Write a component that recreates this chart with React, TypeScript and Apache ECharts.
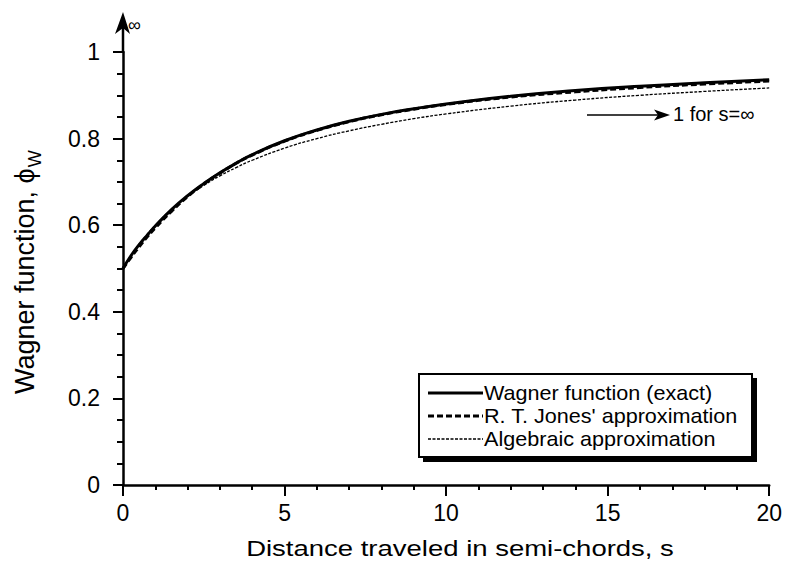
import React, { useEffect, useRef } from "react";
import * as echarts from "echarts";

const sValues = [0, 0.25, 0.5, 0.75, 1, 1.5, 2, 2.5, 3, 3.5, 4, 5, 6, 7, 8, 9, 10, 12, 14, 16, 18, 20];
const exactValues = [0.5, 0.53, 0.555, 0.577, 0.598, 0.636, 0.668, 0.696, 0.721, 0.743, 0.763, 0.795, 0.82, 0.84, 0.856, 0.869, 0.88, 0.898, 0.911, 0.921, 0.929, 0.936];
const jonesValues = [0.5, 0.526, 0.55, 0.573, 0.594, 0.632, 0.666, 0.695, 0.72, 0.743, 0.762, 0.794, 0.819, 0.839, 0.855, 0.868, 0.879, 0.896, 0.908, 0.918, 0.926, 0.933];
const algebraicValues = [0.5, 0.529, 0.556, 0.579, 0.6, 0.636, 0.667, 0.692, 0.714, 0.733, 0.75, 0.778, 0.8, 0.818, 0.833, 0.846, 0.857, 0.875, 0.889, 0.9, 0.909, 0.917];

const seriesNames = ["Wagner function (exact)", "R. T. Jones' approximation", "Algebraic approximation"];
const xTitle = "Distance traveled in semi-chords, s";
const yTitle = "Wagner function, ϕ";
const yTitleSub = "W";
const noteText = "1 for s=∞";

const FONT = '"Liberation Sans", Arial, sans-serif';

function measure(text: string, size: number) {
  const c = document.createElement("canvas").getContext("2d");
  if (!c) return text.length * size * 0.5;
  c.font = `${size}px "Liberation Sans"`;
  return c.measureText(text).width;
}

function txt(x: number, y: number, text: string, size: number, align: string, vAlign: string, extra: any = {}) {
  return {
    type: "text",
    x,
    y,
    ...extra,
    style: {
      text,
      fontSize: size,
      fontFamily: FONT,
      fill: "#000",
      align,
      verticalAlign: vAlign,
      textAlign: align,
      textVerticalAlign: vAlign,
    },
  };
}

export default function App() {
  const ref = useRef<HTMLDivElement>(null);
  useEffect(() => {
    if (!ref.current) return;
    const chart = echarts.init(ref.current, undefined, { renderer: "svg" });
    const pair = (vals: number[]) => sValues.map((s, i) => [s, vals[i]]);
    const yMainW = measure(yTitle, 27);

    const legendRows = [
      { y: 393, dash: null as any, w: 3 },
      { y: 416, dash: [6, 3], w: 3 },
      { y: 439, dash: [3, 1.5], w: 1.3 },
    ];

    chart.setOption({
      animation: false,
      backgroundColor: "#fff",
      grid: { left: 123, right: 11, top: 52, bottom: 80, containLabel: false },
      xAxis: {
        type: "value",
        min: 0,
        max: 20,
        interval: 5,
        axisLine: { show: true, lineStyle: { color: "#000", width: 2.5 } },
        axisTick: { show: true, inside: false, length: 11, lineStyle: { color: "#000", width: 2 } },
        minorTick: { show: true, splitNumber: 5, length: 5, lineStyle: { color: "#000", width: 2 } },
        splitLine: { show: false },
        axisLabel: { color: "#000", fontSize: 23, fontFamily: FONT, margin: 16 },
      },
      yAxis: {
        type: "value",
        min: 0,
        max: 1,
        interval: 0.2,
        axisLine: { show: true, lineStyle: { color: "#000", width: 2.5 } },
        axisTick: { show: true, inside: false, length: 10, lineStyle: { color: "#000", width: 2 } },
        minorTick: { show: true, splitNumber: 4, length: 6, lineStyle: { color: "#000", width: 2 } },
        splitLine: { show: false },
        axisLabel: { color: "#000", fontSize: 23, fontFamily: FONT, margin: 23 },
      },
      series: [
        {
          name: seriesNames[2],
          type: "line",
          data: pair(algebraicValues),
          smooth: true,
          symbol: "none",
          lineStyle: { color: "#000", width: 1.3, type: [3, 1.5] },
        },
        {
          name: seriesNames[0],
          type: "line",
          data: pair(exactValues),
          smooth: true,
          symbol: "none",
          lineStyle: { color: "#000", width: 3, type: "solid" },
        },
        {
          name: seriesNames[1],
          type: "line",
          data: pair(jonesValues),
          smooth: true,
          symbol: "none",
          lineStyle: { color: "#000", width: 3, type: [6, 3] },
        },
      ],
      graphic: [
        { type: "line", shape: { x1: 123, y1: 53, x2: 123, y2: 26 }, style: { stroke: "#000", lineWidth: 2.5 } },
        { type: "polygon", shape: { points: [[123, 12], [115, 34], [123, 28], [130, 34]] }, style: { fill: "#000" } },
        txt(128, 25, "∞", 18, "left", "middle"),
        { type: "line", shape: { x1: 587, y1: 115, x2: 660, y2: 115 }, style: { stroke: "#000", lineWidth: 1.5 } },
        { type: "polygon", shape: { points: [[670, 115], [654, 109.5], [658, 115], [654, 120.5]] }, style: { fill: "#000" } },
        txt(673, 114, noteText, 20, "left", "middle"),
        txt(460, 548, xTitle, 22, "center", "middle", { scaleX: 1.25 }),
        {
          type: "group",
          x: 25,
          y: 394,
          rotation: Math.PI / 2,
          children: [
            txt(0, 0, yTitle, 27, "left", "middle", { scaleY: 1.0 }),
            txt(yMainW + 1, 10, yTitleSub, 18, "left", "middle"),
          ],
        },
        { type: "rect", shape: { x: 423, y: 378, width: 334, height: 84 }, style: { fill: "#000" } },
        { type: "rect", shape: { x: 419, y: 374, width: 333, height: 83 }, style: { fill: "#fff", stroke: "#000", lineWidth: 2 } },
        ...legendRows.flatMap((r, i) => [
          {
            type: "line",
            shape: { x1: 428, y1: r.y, x2: 483, y2: r.y },
            style: { stroke: "#000", lineWidth: r.w, lineDash: r.dash },
          },
          txt(484, r.y, seriesNames[i], 20, "left", "middle", { scaleX: 1.08 }),
        ]),
      ],
    });
    return () => chart.dispose();
  }, []);
  return <div ref={ref} style={{ position: "fixed", left: 0, top: 0, width: 785, height: 565 }} />;
}
